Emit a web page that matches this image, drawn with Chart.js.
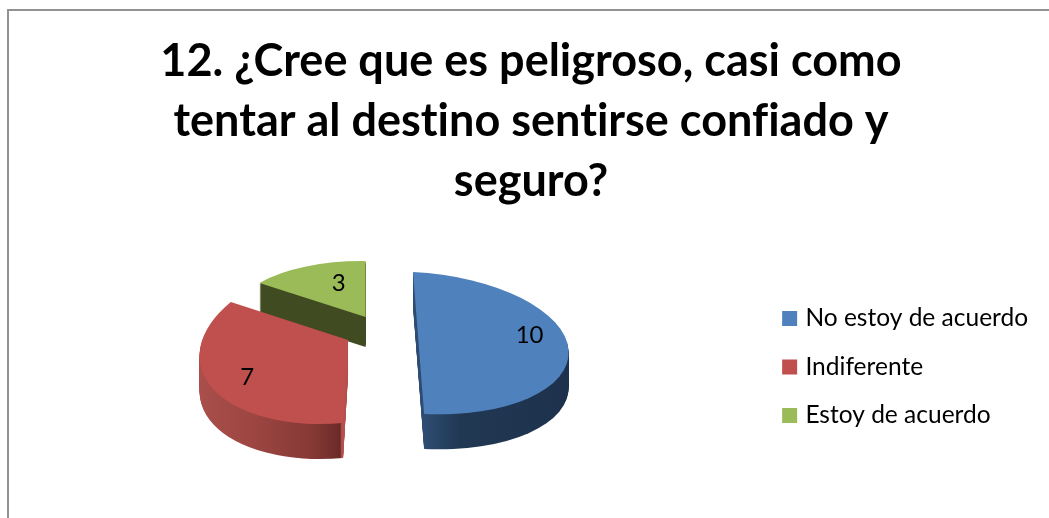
<!DOCTYPE html>
<html>
<head>
<meta charset="utf-8">
<style>
  html, body { margin: 0; background: #fff; overflow: hidden; }
  #frame { position: absolute; left: 7px; top: 9px; right: 0; bottom: 0; border-left: 2px solid #929292; border-top: 2px solid #929292; }
  canvas { position: absolute; left: 0; top: 0; }
</style>
<script src="https://cdn.jsdelivr.net/npm/chart.js@4"></script>
</head>
<body>
<div id="frame"></div>
<canvas id="chart" width="1049" height="518"></canvas>
<script>
const titleLines = ['12. ¿Cree que es peligroso, casi como', 'tentar al destino sentirse confiado y', 'seguro?'];
const categories = ['No estoy de acuerdo', 'Indiferente', 'Estoy de acuerdo'];
const answers = [10, 7, 3];
const colors = ['#4f81bd', '#c0504d', '#9bbb59'];

// the fake 3d: each slice gets its own flattening and pull-out from the pie centre
const flatten = [[1, 0.047, 0.037, 0.473], [0.99, -0.088, -0.033, 0.553], [0.874, 0.01, 0, 0.373]];
const pullOut = [[25.5, -24], [-45, -27], [-27.5, -50]];
const depth = [35, 35, 30];
const wallStops = [
  [[0, '#1f3a5f'], [0.5, '#2e4c72'], [0.62, '#213853'], [1, '#1d314c']],
  [[0, '#aa4f4b'], [0.2, '#9c4541'], [0.4, '#853935'], [0.49, '#6a2a28'], [0.495, '#b5504d'], [1, '#b5504d']],
  [[0, '#414b22'], [1, '#414b22']]
];
const labelReach = [0.74, 0.75, 0.45];
const labelLift = [13, 0, 11];

function placeSlice(ctx, arc, i, drop) {
  ctx.translate(arc.x + pullOut[i][0], arc.y + pullOut[i][1] + drop);
  ctx.transform(...flatten[i], 0, 0);
  ctx.translate(-arc.x, -arc.y);
}

const pie3d = {
  id: 'pie3d',
  beforeDraw(chart) {
    // Lato's ti and fi ligatures are not in the original, letter spacing switches them off
    chart.ctx.letterSpacing = '0.01px';
  },
  beforeDatasetsDraw(chart) {
    const ctx = chart.ctx;
    const arcs = chart.getDatasetMeta(0).data;
    [2, 1, 0].forEach(i => {
      const arc = arcs[i];
      const opts = arc.options;
      const wall = ctx.createLinearGradient(arc.x - arc.outerRadius, 0, arc.x + arc.outerRadius, 0);
      wallStops[i].forEach(s => wall.addColorStop(s[0], s[1]));
      arc.options = Object.assign({}, opts, {backgroundColor: wall});
      for (let d = depth[i]; d > 0; d--) {
        ctx.save();
        placeSlice(ctx, arc, i, d);
        arc.draw(ctx);
        ctx.restore();
      }
      arc.options = opts;
      ctx.save();
      placeSlice(ctx, arc, i, 0);
      arc.draw(ctx);
      ctx.restore();
    });
    return false;
  },
  afterDraw(chart) {
    const ctx = chart.ctx;
    chart.getDatasetMeta(0).data.forEach((arc, i) => {
      const mid = (arc.startAngle + arc.endAngle) / 2;
      const u = Math.cos(mid) * arc.outerRadius * labelReach[i];
      const v = Math.sin(mid) * arc.outerRadius * labelReach[i];
      const m = flatten[i];
      const x = arc.x + pullOut[i][0] + m[0] * u + m[2] * v;
      const y = arc.y + pullOut[i][1] + m[1] * u + m[3] * v - labelLift[i];
      ctx.save();
      ctx.font = '24px Lato';
      ctx.fillStyle = '#000';
      ctx.textAlign = 'center';
      ctx.textBaseline = 'middle';
      ctx.fillText(String(answers[i]), x, y);
      ctx.restore();
    });
  }
};

new Chart(document.getElementById('chart'), {
  type: 'pie',
  plugins: [pie3d],
  data: {
    labels: categories,
    datasets: [{data: answers, backgroundColor: colors, borderWidth: 0}]
  },
  options: {
    responsive: false,
    animation: false,
    radius: 150,
    layout: {padding: {left: 24, right: 11, bottom: 14}},
    plugins: {
      tooltip: {enabled: false},
      title: {
        display: true,
        text: titleLines,
        color: '#000',
        font: {family: 'Lato', size: 45, weight: 'bold', lineHeight: 1.3333},
        padding: {top: 31, bottom: 19}
      },
      legend: {
        position: 'right',
        fullSize: false,
        labels: {
          color: '#000',
          font: {family: 'Lato', size: 24.5},
          boxWidth: 7,
          boxHeight: 7,
          padding: 24,
          generateLabels: chart => categories.map((c, i) => ({
            text: c, fillStyle: colors[i], strokeStyle: colors[i], lineWidth: 8, index: i
          }))
        }
      }
    }
  }
});
</script>
</body>
</html>
